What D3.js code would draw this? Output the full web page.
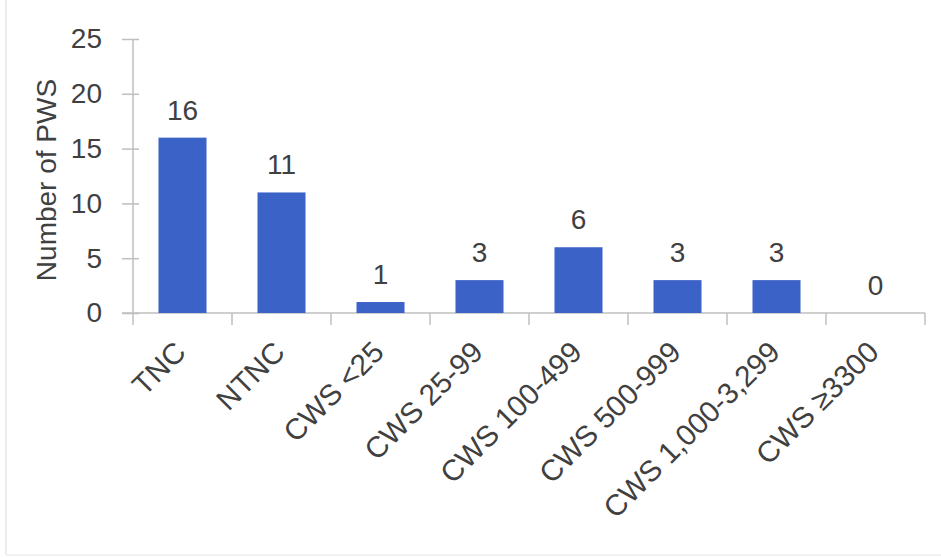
<!DOCTYPE html>
<html>
<head>
<meta charset="utf-8">
<script src="https://cdn.jsdelivr.net/npm/d3@7/dist/d3.min.js"></script>
<style>
  html, body { margin: 0; padding: 0; background: #fff; }
  svg { display: block; }
  text { font-family: "Liberation Sans", Arial, sans-serif; fill: #404040; }
</style>
</head>
<body>
<svg id="chart" width="941" height="557"></svg>
<script>
// Public water systems by type / size class
const categories = ["TNC", "NTNC", "CWS <25", "CWS 25-99", "CWS 100-499", "CWS 500-999", "CWS 1,000-3,299", "CWS \u22653300"];
const counts = [16, 11, 1, 3, 6, 3, 3, 0];
const yTicks = [0, 5, 10, 15, 20, 25];
const yTitle = "Number of PWS";

const W = 941, H = 557;
const plot = { left: 133, right: 925, top: 39, bottom: 313 };
const axisColor = "#bfbfbf";
const barColor = "#3b62c6";

const svg = d3.select("#chart");

// faint frame on the left and bottom edges
svg.append("line").attr("x1", 6).attr("x2", 6).attr("y1", 0).attr("y2", 555)
  .attr("stroke", "#e6e6e6").attr("stroke-width", 1.5);
svg.append("line").attr("x1", 6).attr("x2", W).attr("y1", 555).attr("y2", 555)
  .attr("stroke", "#ededed").attr("stroke-width", 1.5);

const pad = 0.515;
const x = d3.scaleBand().domain(categories)
  .range([plot.left, plot.right]).paddingInner(pad).paddingOuter(pad / 2);
const y = d3.scaleLinear().domain([0, 25]).range([plot.bottom, plot.top]);

// y axis: labels from d3's axis, ticks crossing the axis line
const yAxis = svg.append("g").attr("transform", `translate(${plot.left},0)`)
  .call(d3.axisLeft(y).tickValues(yTicks).tickSize(11).tickPadding(20));
yAxis.select(".domain").remove();
yAxis.selectAll(".tick line").attr("x1", 6).attr("x2", -11)
  .attr("stroke", axisColor).attr("stroke-width", 1.5);
yAxis.selectAll(".tick text").attr("font-size", 28).attr("fill", "#404040")
  .attr("font-family", "Liberation Sans, Arial, sans-serif");
svg.append("line").attr("x1", plot.left).attr("x2", plot.left)
  .attr("y1", y(25)).attr("y2", plot.bottom + 12)
  .attr("stroke", axisColor).attr("stroke-width", 1.5);

// x axis baseline and category boundary ticks
svg.append("line").attr("x1", plot.left - 11).attr("x2", plot.right)
  .attr("y1", plot.bottom).attr("y2", plot.bottom)
  .attr("stroke", axisColor).attr("stroke-width", 1.5);
const bounds = categories.map(c => x(c) - x.step() * pad / 2);
bounds.push(bounds[bounds.length - 1] + x.step());
svg.selectAll(".xtick").data(bounds.slice(1)).join("line")
  .attr("class", "xtick")
  .attr("x1", d => d).attr("x2", d => d)
  .attr("y1", plot.bottom).attr("y2", plot.bottom + 12)
  .attr("stroke", axisColor).attr("stroke-width", 1.5);

// bars
svg.selectAll(".bar").data(categories).join("rect")
  .attr("class", "bar")
  .attr("x", d => x(d))
  .attr("width", x.bandwidth())
  .attr("y", (d, i) => y(counts[i]))
  .attr("height", (d, i) => plot.bottom - y(counts[i]))
  .attr("fill", barColor);

// value labels
svg.selectAll(".val").data(categories).join("text")
  .attr("class", "val")
  .attr("x", d => x(d) + x.bandwidth() / 2)
  .attr("y", (d, i) => y(counts[i]) - 18)
  .attr("text-anchor", "middle")
  .attr("font-size", 28)
  .text((d, i) => counts[i]);

// rotated category labels
svg.selectAll(".cat").data(categories).join("text")
  .attr("class", "cat")
  .attr("text-anchor", "end")
  .attr("font-size", 29.5)
  .attr("transform", d => `translate(${x(d) + x.bandwidth() / 2 + 5},${plot.bottom + 41}) rotate(-45)`)
  .text(d => d);

// y axis title
svg.append("text")
  .attr("transform", `translate(56,180) rotate(-90)`)
  .attr("text-anchor", "middle")
  .attr("font-size", 28)
  .text(yTitle);
</script>
</body>
</html>
